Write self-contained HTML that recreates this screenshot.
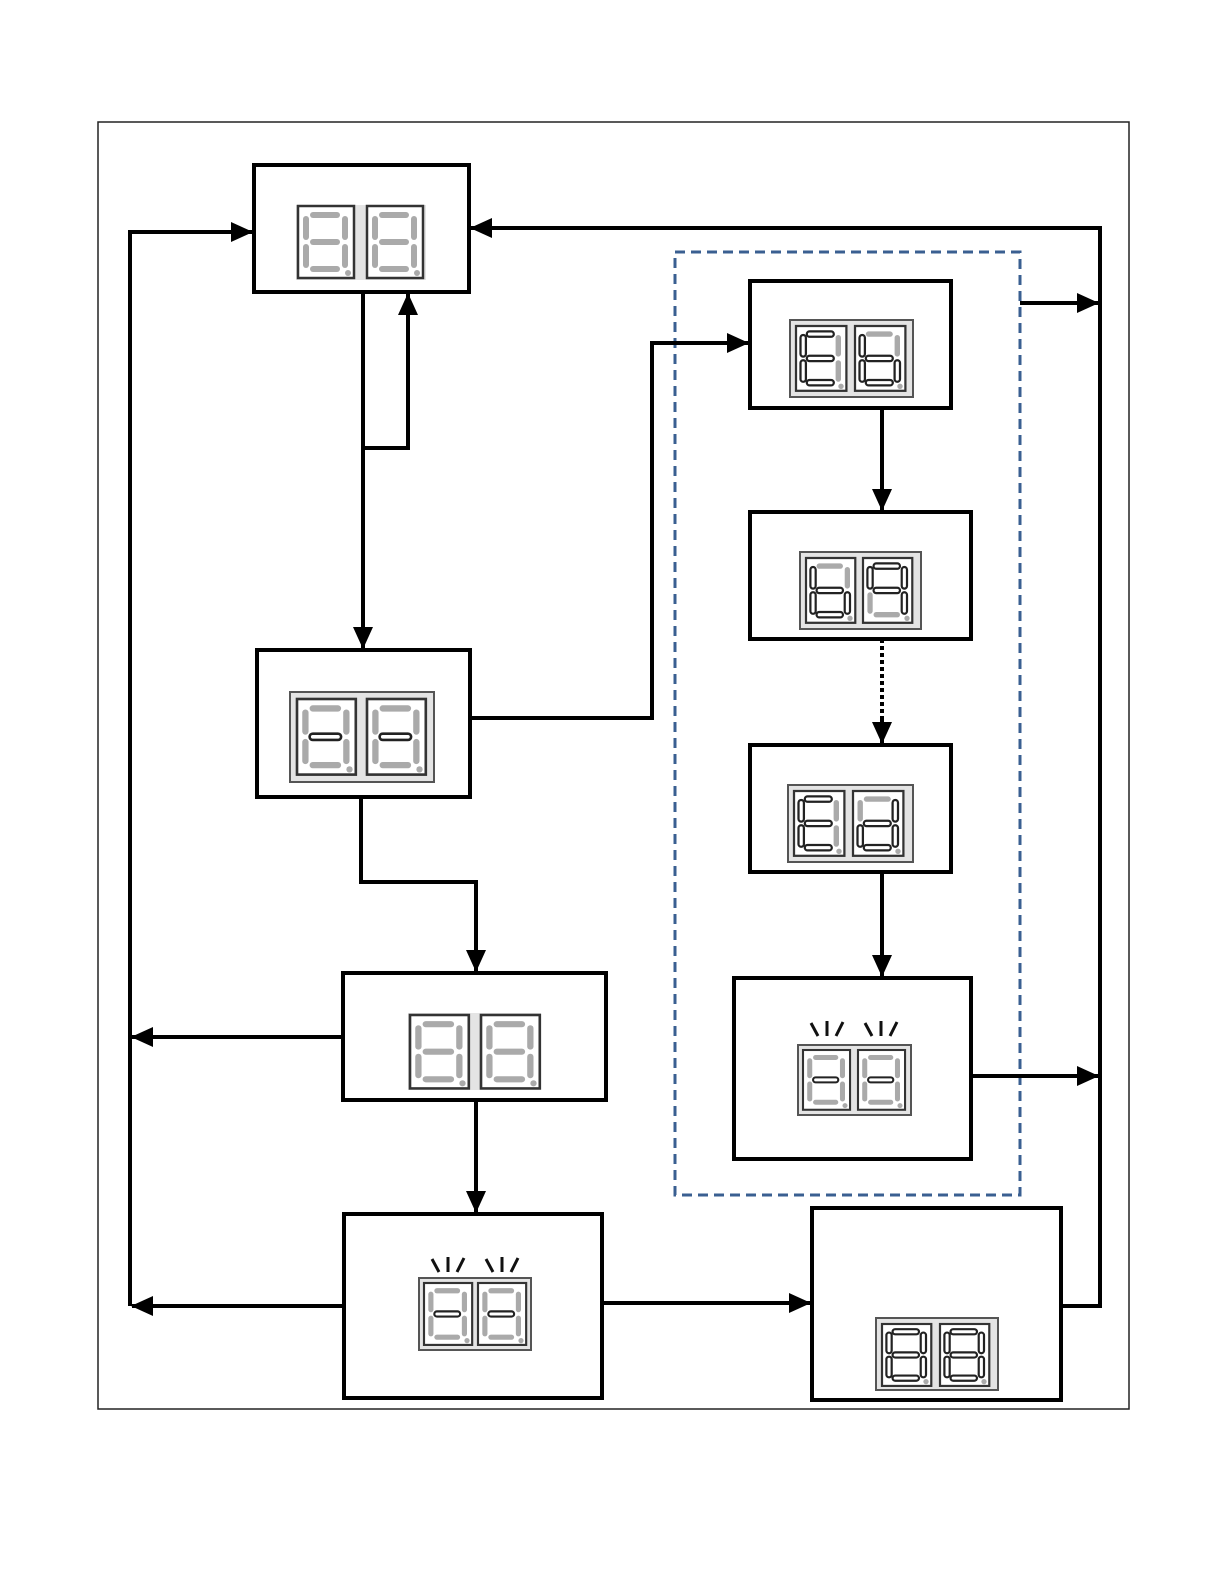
<!DOCTYPE html>
<html><head><meta charset="utf-8"><style>html,body{margin:0;padding:0;background:#fff;overflow:hidden;width:1224px;height:1584px}svg{display:block}</style></head>
<body>
<svg width="1224" height="1584" viewBox="0 0 1224 1584" xmlns="http://www.w3.org/2000/svg">
<defs>
<marker id="ar" markerUnits="userSpaceOnUse" markerWidth="22" markerHeight="20" refX="21" refY="10" orient="auto"><path d="M0,0 L22,10 L0,20 z" fill="#000"/></marker>
<style>
.f{fill:#aaa}
.n{fill:#fff;stroke:#222;stroke-width:2.5}
.fr{fill:#fff;stroke:#333;stroke-width:2.5}
.c{fill:none;stroke:#000;stroke-width:4}
</style>
</defs>
<rect x="98" y="122" width="1031" height="1287" fill="none" stroke="#222" stroke-width="1.5"/>
<rect x="675" y="252" width="345" height="943" fill="none" stroke="#3a5f91" stroke-width="3" stroke-dasharray="10 6"/>

<g fill="none" stroke="#000" stroke-width="4">
<rect x="254" y="165" width="215" height="127"/>
<rect x="257" y="650" width="213" height="147"/>
<rect x="343" y="973" width="263" height="127"/>
<rect x="344" y="1214" width="258" height="184"/>
<rect x="750" y="281" width="201" height="127"/>
<rect x="750" y="512" width="221" height="127"/>
<rect x="750" y="745" width="201" height="127"/>
<rect x="734" y="978" width="237" height="181"/>
<rect x="812" y="1208" width="249" height="192"/>
</g>

<path class="c" d="M130,1306 V232 H252" marker-end="url(#ar)"/>
<path class="c" d="M363,292 V648" marker-end="url(#ar)"/>
<path class="c" d="M363,448 H408 V294" marker-end="url(#ar)"/>
<path class="c" d="M470,718 H652 V343 H748" marker-end="url(#ar)"/>
<path class="c" d="M361,797 V882 H476 V971" marker-end="url(#ar)"/>
<path class="c" d="M343,1037 H132" marker-end="url(#ar)"/>
<path class="c" d="M476,1100 V1212" marker-end="url(#ar)"/>
<path class="c" d="M344,1306 H132" marker-end="url(#ar)"/>
<path class="c" d="M604,1303 H810" marker-end="url(#ar)"/>
<path class="c" d="M1061,1306 H1100 V228 H471" marker-end="url(#ar)"/>
<path class="c" d="M1020,303 H1098" marker-end="url(#ar)"/>
<path class="c" d="M971,1076 H1098" marker-end="url(#ar)"/>
<path class="c" d="M882,408 V510" marker-end="url(#ar)"/>
<path class="c" d="M882,639 V722" stroke-dasharray="4 3"/>
<path d="M882,720 V743" stroke="#000" stroke-width="4" marker-end="url(#ar)"/>
<path class="c" d="M882,872 V976" marker-end="url(#ar)"/>

<g fill="#e4e4e4" stroke="#555" stroke-width="2">
<rect x="296" y="205" width="130" height="75" stroke="none"/>
<rect x="790" y="320" width="123" height="77"/>
<rect x="800" y="552" width="121" height="77"/>
<rect x="788" y="785" width="125" height="77"/>
<rect x="798" y="1045" width="113" height="70"/>
<rect x="290" y="692" width="144" height="90"/>
<rect x="408" y="1013" width="133" height="77" stroke="none"/>
<rect x="419" y="1278" width="112" height="72"/>
<rect x="876" y="1318" width="122" height="72"/>
</g>

<g transform="translate(298,206) scale(1.0,1.0)"><rect class="fr" width="56" height="72"/><rect class="f" x="12" y="6" width="30" height="6" rx="3"/><rect class="f" x="44" y="10" width="6" height="24" rx="3"/><rect class="f" x="44" y="38" width="6" height="24" rx="3"/><rect class="f" x="12" y="60" width="30" height="6" rx="3"/><rect class="f" x="5" y="38" width="6" height="24" rx="3"/><rect class="f" x="5" y="10" width="6" height="24" rx="3"/><rect class="f" x="12" y="33" width="30" height="6" rx="3"/><circle class="f" cx="50" cy="67" r="3"/></g>
<g transform="translate(367,206) scale(1.0,1.0)"><rect class="fr" width="56" height="72"/><rect class="f" x="12" y="6" width="30" height="6" rx="3"/><rect class="f" x="44" y="10" width="6" height="24" rx="3"/><rect class="f" x="44" y="38" width="6" height="24" rx="3"/><rect class="f" x="12" y="60" width="30" height="6" rx="3"/><rect class="f" x="5" y="38" width="6" height="24" rx="3"/><rect class="f" x="5" y="10" width="6" height="24" rx="3"/><rect class="f" x="12" y="33" width="30" height="6" rx="3"/><circle class="f" cx="50" cy="67" r="3"/></g>

<g transform="translate(796,326) scale(0.9,0.9)"><rect class="fr" width="56" height="72"/><rect class="n" x="12" y="6" width="30" height="6" rx="3"/><rect class="f" x="44" y="10" width="6" height="24" rx="3"/><rect class="f" x="44" y="38" width="6" height="24" rx="3"/><rect class="n" x="12" y="60" width="30" height="6" rx="3"/><rect class="n" x="5" y="38" width="6" height="24" rx="3"/><rect class="n" x="5" y="10" width="6" height="24" rx="3"/><rect class="n" x="12" y="33" width="30" height="6" rx="3"/><circle class="f" cx="50" cy="67" r="3"/></g>
<g transform="translate(855,326) scale(0.9,0.9)"><rect class="fr" width="56" height="72"/><rect class="f" x="12" y="6" width="30" height="6" rx="3"/><rect class="f" x="44" y="10" width="6" height="24" rx="3"/><rect class="n" x="44" y="38" width="6" height="24" rx="3"/><rect class="n" x="12" y="60" width="30" height="6" rx="3"/><rect class="n" x="5" y="38" width="6" height="24" rx="3"/><rect class="n" x="5" y="10" width="6" height="24" rx="3"/><rect class="n" x="12" y="33" width="30" height="6" rx="3"/><circle class="f" cx="50" cy="67" r="3"/></g>

<g transform="translate(806,558) scale(0.88,0.9)"><rect class="fr" width="56" height="72"/><rect class="f" x="12" y="6" width="30" height="6" rx="3"/><rect class="f" x="44" y="10" width="6" height="24" rx="3"/><rect class="n" x="44" y="38" width="6" height="24" rx="3"/><rect class="n" x="12" y="60" width="30" height="6" rx="3"/><rect class="n" x="5" y="38" width="6" height="24" rx="3"/><rect class="n" x="5" y="10" width="6" height="24" rx="3"/><rect class="n" x="12" y="33" width="30" height="6" rx="3"/><circle class="f" cx="50" cy="67" r="3"/></g>
<g transform="translate(863,558) scale(0.88,0.9)"><rect class="fr" width="56" height="72"/><rect class="n" x="12" y="6" width="30" height="6" rx="3"/><rect class="n" x="44" y="10" width="6" height="24" rx="3"/><rect class="n" x="44" y="38" width="6" height="24" rx="3"/><rect class="f" x="12" y="60" width="30" height="6" rx="3"/><rect class="f" x="5" y="38" width="6" height="24" rx="3"/><rect class="n" x="5" y="10" width="6" height="24" rx="3"/><rect class="n" x="12" y="33" width="30" height="6" rx="3"/><circle class="f" cx="50" cy="67" r="3"/></g>

<g transform="translate(794,791) scale(0.9,0.9)"><rect class="fr" width="56" height="72"/><rect class="n" x="12" y="6" width="30" height="6" rx="3"/><rect class="f" x="44" y="10" width="6" height="24" rx="3"/><rect class="f" x="44" y="38" width="6" height="24" rx="3"/><rect class="n" x="12" y="60" width="30" height="6" rx="3"/><rect class="n" x="5" y="38" width="6" height="24" rx="3"/><rect class="n" x="5" y="10" width="6" height="24" rx="3"/><rect class="n" x="12" y="33" width="30" height="6" rx="3"/><circle class="f" cx="50" cy="67" r="3"/></g>
<g transform="translate(853,791) scale(0.9,0.9)"><rect class="fr" width="56" height="72"/><rect class="f" x="12" y="6" width="30" height="6" rx="3"/><rect class="n" x="44" y="10" width="6" height="24" rx="3"/><rect class="n" x="44" y="38" width="6" height="24" rx="3"/><rect class="n" x="12" y="60" width="30" height="6" rx="3"/><rect class="n" x="5" y="38" width="6" height="24" rx="3"/><rect class="f" x="5" y="10" width="6" height="24" rx="3"/><rect class="n" x="12" y="33" width="30" height="6" rx="3"/><circle class="f" cx="50" cy="67" r="3"/></g>

<g transform="translate(803,1050) scale(0.84,0.83)"><rect class="fr" width="56" height="72"/><rect class="f" x="12" y="6" width="30" height="6" rx="3"/><rect class="f" x="44" y="10" width="6" height="24" rx="3"/><rect class="f" x="44" y="38" width="6" height="24" rx="3"/><rect class="f" x="12" y="60" width="30" height="6" rx="3"/><rect class="f" x="5" y="38" width="6" height="24" rx="3"/><rect class="f" x="5" y="10" width="6" height="24" rx="3"/><rect class="n" x="12" y="33" width="30" height="6" rx="3"/><circle class="f" cx="50" cy="67" r="3"/></g>
<g transform="translate(858,1050) scale(0.84,0.83)"><rect class="fr" width="56" height="72"/><rect class="f" x="12" y="6" width="30" height="6" rx="3"/><rect class="f" x="44" y="10" width="6" height="24" rx="3"/><rect class="f" x="44" y="38" width="6" height="24" rx="3"/><rect class="f" x="12" y="60" width="30" height="6" rx="3"/><rect class="f" x="5" y="38" width="6" height="24" rx="3"/><rect class="f" x="5" y="10" width="6" height="24" rx="3"/><rect class="n" x="12" y="33" width="30" height="6" rx="3"/><circle class="f" cx="50" cy="67" r="3"/></g>
<g stroke="#111" stroke-width="3">
<line x1="811" y1="1023" x2="818" y2="1036"/><line x1="827" y1="1021" x2="827" y2="1036"/><line x1="843" y1="1022" x2="836" y2="1036"/>
<line x1="865" y1="1023" x2="872" y2="1036"/><line x1="881" y1="1021" x2="881" y2="1036"/><line x1="897" y1="1022" x2="890" y2="1036"/>
<line x1="432" y1="1259" x2="439" y2="1272"/><line x1="448" y1="1257" x2="448" y2="1272"/><line x1="464" y1="1258" x2="457" y2="1272"/>
<line x1="486" y1="1259" x2="493" y2="1272"/><line x1="502" y1="1257" x2="502" y2="1272"/><line x1="518" y1="1258" x2="511" y2="1272"/>
</g>

<g transform="translate(297,699) scale(1.05,1.05)"><rect class="fr" width="56" height="72"/><rect class="f" x="12" y="6" width="30" height="6" rx="3"/><rect class="f" x="44" y="10" width="6" height="24" rx="3"/><rect class="f" x="44" y="38" width="6" height="24" rx="3"/><rect class="f" x="12" y="60" width="30" height="6" rx="3"/><rect class="f" x="5" y="38" width="6" height="24" rx="3"/><rect class="f" x="5" y="10" width="6" height="24" rx="3"/><rect class="n" x="12" y="33" width="30" height="6" rx="3"/><circle class="f" cx="50" cy="67" r="3"/></g>
<g transform="translate(367,699) scale(1.05,1.05)"><rect class="fr" width="56" height="72"/><rect class="f" x="12" y="6" width="30" height="6" rx="3"/><rect class="f" x="44" y="10" width="6" height="24" rx="3"/><rect class="f" x="44" y="38" width="6" height="24" rx="3"/><rect class="f" x="12" y="60" width="30" height="6" rx="3"/><rect class="f" x="5" y="38" width="6" height="24" rx="3"/><rect class="f" x="5" y="10" width="6" height="24" rx="3"/><rect class="n" x="12" y="33" width="30" height="6" rx="3"/><circle class="f" cx="50" cy="67" r="3"/></g>

<g transform="translate(410,1015) scale(1.05,1.02)"><rect class="fr" width="56" height="72"/><rect class="f" x="12" y="6" width="30" height="6" rx="3"/><rect class="f" x="44" y="10" width="6" height="24" rx="3"/><rect class="f" x="44" y="38" width="6" height="24" rx="3"/><rect class="f" x="12" y="60" width="30" height="6" rx="3"/><rect class="f" x="5" y="38" width="6" height="24" rx="3"/><rect class="f" x="5" y="10" width="6" height="24" rx="3"/><rect class="f" x="12" y="33" width="30" height="6" rx="3"/><circle class="f" cx="50" cy="67" r="3"/></g>
<g transform="translate(481,1015) scale(1.05,1.02)"><rect class="fr" width="56" height="72"/><rect class="f" x="12" y="6" width="30" height="6" rx="3"/><rect class="f" x="44" y="10" width="6" height="24" rx="3"/><rect class="f" x="44" y="38" width="6" height="24" rx="3"/><rect class="f" x="12" y="60" width="30" height="6" rx="3"/><rect class="f" x="5" y="38" width="6" height="24" rx="3"/><rect class="f" x="5" y="10" width="6" height="24" rx="3"/><rect class="f" x="12" y="33" width="30" height="6" rx="3"/><circle class="f" cx="50" cy="67" r="3"/></g>

<g transform="translate(424,1283) scale(0.86,0.86)"><rect class="fr" width="56" height="72"/><rect class="f" x="12" y="6" width="30" height="6" rx="3"/><rect class="f" x="44" y="10" width="6" height="24" rx="3"/><rect class="f" x="44" y="38" width="6" height="24" rx="3"/><rect class="f" x="12" y="60" width="30" height="6" rx="3"/><rect class="f" x="5" y="38" width="6" height="24" rx="3"/><rect class="f" x="5" y="10" width="6" height="24" rx="3"/><rect class="n" x="12" y="33" width="30" height="6" rx="3"/><circle class="f" cx="50" cy="67" r="3"/></g>
<g transform="translate(478,1283) scale(0.86,0.86)"><rect class="fr" width="56" height="72"/><rect class="f" x="12" y="6" width="30" height="6" rx="3"/><rect class="f" x="44" y="10" width="6" height="24" rx="3"/><rect class="f" x="44" y="38" width="6" height="24" rx="3"/><rect class="f" x="12" y="60" width="30" height="6" rx="3"/><rect class="f" x="5" y="38" width="6" height="24" rx="3"/><rect class="f" x="5" y="10" width="6" height="24" rx="3"/><rect class="n" x="12" y="33" width="30" height="6" rx="3"/><circle class="f" cx="50" cy="67" r="3"/></g>

<g transform="translate(882,1324) scale(0.88,0.86)"><rect class="fr" width="56" height="72"/><rect class="n" x="12" y="6" width="30" height="6" rx="3"/><rect class="n" x="44" y="10" width="6" height="24" rx="3"/><rect class="n" x="44" y="38" width="6" height="24" rx="3"/><rect class="n" x="12" y="60" width="30" height="6" rx="3"/><rect class="n" x="5" y="38" width="6" height="24" rx="3"/><rect class="n" x="5" y="10" width="6" height="24" rx="3"/><rect class="n" x="12" y="33" width="30" height="6" rx="3"/><circle class="f" cx="50" cy="67" r="3"/></g>
<g transform="translate(940,1324) scale(0.88,0.86)"><rect class="fr" width="56" height="72"/><rect class="n" x="12" y="6" width="30" height="6" rx="3"/><rect class="n" x="44" y="10" width="6" height="24" rx="3"/><rect class="n" x="44" y="38" width="6" height="24" rx="3"/><rect class="n" x="12" y="60" width="30" height="6" rx="3"/><rect class="n" x="5" y="38" width="6" height="24" rx="3"/><rect class="n" x="5" y="10" width="6" height="24" rx="3"/><rect class="n" x="12" y="33" width="30" height="6" rx="3"/><circle class="f" cx="50" cy="67" r="3"/></g>
</svg>
</body></html>
